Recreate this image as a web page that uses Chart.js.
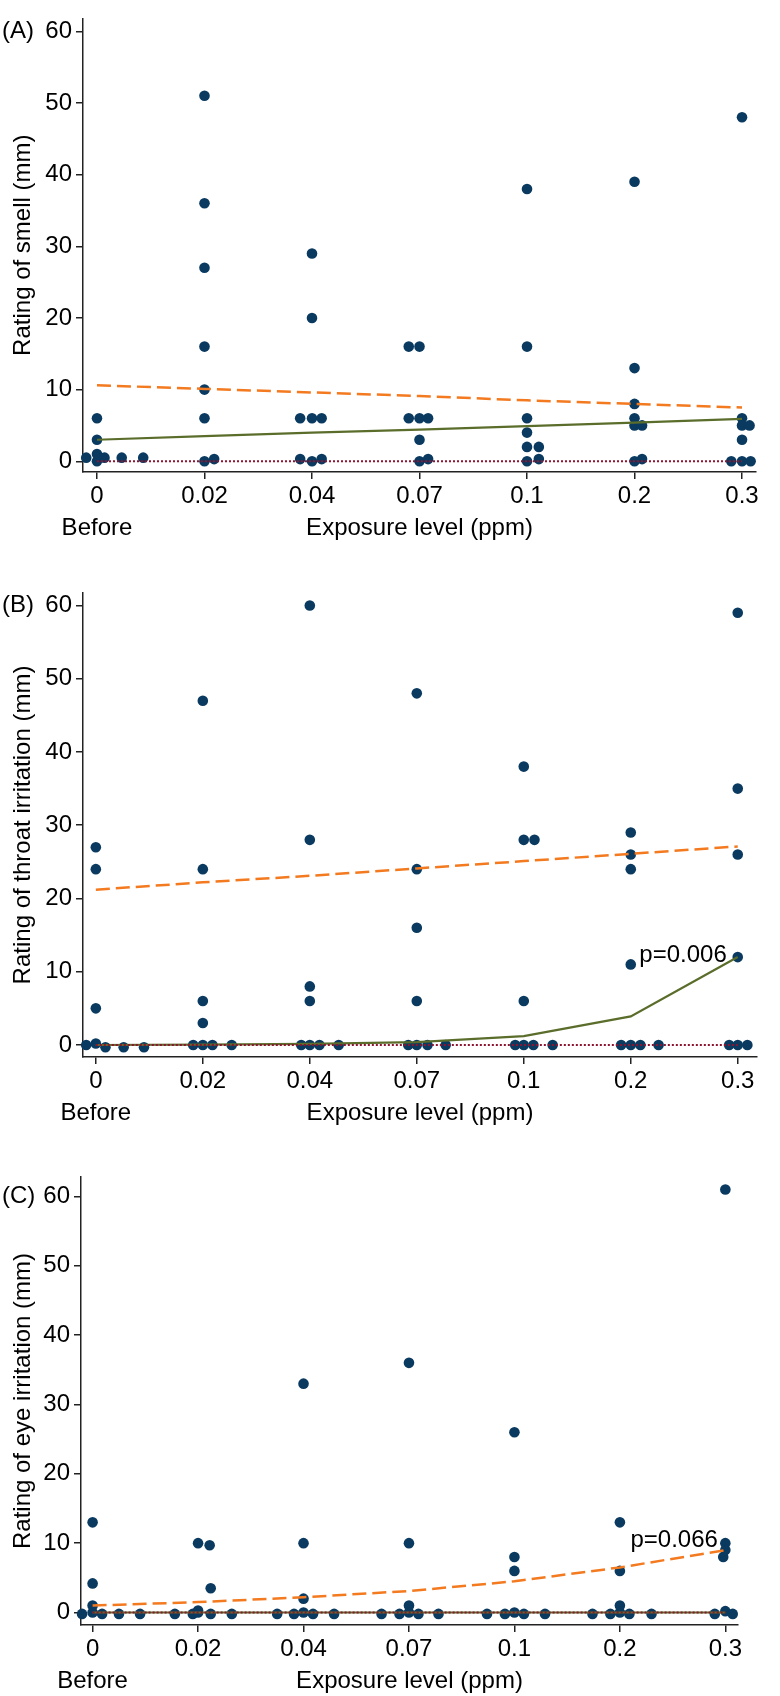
<!DOCTYPE html>
<html>
<head>
<meta charset="utf-8">
<script src="https://cdn.jsdelivr.net/npm/chart.js@4.4.0/dist/chart.umd.min.js"></script>
<style>
body { margin: 0; background: #fff; }
.panel { position: absolute; left: 0; width: 780px; }
canvas { display: block; }
</style>
</head>
<body>
<div class="panel" style="top:0px"><canvas id="chartA" width="780" height="560"></canvas></div>
<div class="panel" style="top:560px"><canvas id="chartB" width="780" height="580"></canvas></div>
<div class="panel" style="top:1140px"><canvas id="chartC" width="780" height="556"></canvas></div>
<script>
// exposure categories (x = category index, jittered points get a small offset)
const xLabels = ['0', '0.02', '0.04', '0.07', '0.1', '0.2', '0.3'];
const yTicks = [0, 10, 20, 30, 40, 50, 60];

// (A) smell: [position, rating]
const smellPoints = [
    [0, 6], [0, 3], [0, 1], [0, 0], [-0.1, 0.5], [0.07, 0.5], [0.23, 0.5], [0.43, 0.5],
    [1, 51], [1, 36], [1, 27], [1, 16], [1, 10], [1, 6], [1, 0], [1.09, 0.3],
    [2, 29], [2, 20], [1.89, 6], [2, 6], [2.09, 6], [2, 0], [1.89, 0.3], [2.09, 0.3],
    [2.9, 16], [3, 16], [2.9, 6], [3, 6], [3.08, 6], [3, 3], [3, 0], [3.08, 0.3],
    [4, 38], [4, 16], [4, 6], [4, 4], [4, 2], [4.11, 2], [4, 0], [4.11, 0.3],
    [5, 39], [5, 13], [5, 8], [5, 6], [5, 5], [5.07, 5], [5, 0], [5.07, 0.3],
    [6, 48], [6, 6], [6, 5], [6.07, 5], [6, 3], [5.9, 0], [6, 0], [6.08, 0]
];
const smellMean = [10.6, 10.1, 9.6, 9.1, 8.5, 8.0, 7.5];
const smellTrend = [3.0, 3.5, 4.0, 4.4, 4.9, 5.4, 5.9];
const smellMedian = [0, 0, 0, 0, 0, 0, 0];

// (B) throat irritation
const throatPoints = [
    [0, 27], [0, 24], [0, 5], [-0.09, 0], [0, 0.2], [0.09, -0.3], [0.26, -0.3], [0.45, -0.3],
    [1, 47], [1, 24], [1, 6], [1, 3], [0.91, 0], [1, 0], [1.09, 0], [1.27, 0],
    [2, 60], [2, 28], [2, 8], [2, 6], [1.92, 0], [2, 0], [2.09, 0], [2.27, 0],
    [3, 48], [3, 24], [3, 16], [3, 6], [2.92, 0], [3, 0], [3.1, 0], [3.27, 0],
    [4, 38], [4, 28], [4.1, 28], [4, 6], [3.92, 0], [4, 0], [4.09, 0], [4.27, 0],
    [5, 29], [5, 26], [5, 24], [5, 11], [4.91, 0], [5, 0], [5.09, 0], [5.26, 0],
    [6, 59], [6, 35], [6, 26], [6, 12], [5.92, 0], [6, 0], [6.09, 0], [6.26, 0]
];
const throatMean = [21.2, 22.2, 23.1, 24.1, 25.1, 26.1, 27.1];
const throatTrend = [0, 0.05, 0.15, 0.4, 1.2, 3.9, 12];
const throatMedian = [0, 0, 0, 0, 0, 0, 0];

// (C) eye irritation
const eyePoints = [
    [0, 13], [0, 4.2], [0, 1], [0, 0], [-0.1, -0.2], [0.09, -0.2], [0.25, -0.2], [0.45, -0.2],
    [1, 10], [1.11, 9.7], [1.12, 3.5], [1, 0.3], [0.78, -0.2], [0.95, -0.2], [1, 0], [1.12, -0.2], [1.32, -0.2],
    [2, 33], [2, 10], [2, 2], [2, 0], [1.75, -0.2], [1.91, -0.2], [2.09, -0.2], [2.29, -0.2],
    [3, 36], [3, 10], [3, 1], [3, 0], [2.74, -0.2], [2.91, -0.2], [3.09, -0.2], [3.28, -0.2],
    [4, 26], [4, 8], [4, 6], [4, 0], [3.74, -0.2], [3.91, -0.2], [4.09, -0.2], [4.29, -0.2],
    [5, 13], [5, 6], [5, 1], [5, 0], [4.74, -0.2], [4.91, -0.2], [5.09, -0.2], [5.3, -0.2],
    [6, 61], [6, 10], [6, 9], [5.98, 8], [6, 0.2], [5.9, -0.2], [6.07, -0.2], [6.24, -0.2]
];
const eyeMean = [1.0, 1.5, 2.2, 3.1, 4.5, 6.5, 9.0];
const eyeTrend = [0, 0, 0, 0, 0, 0, 0];
const eyeMedian = [0, 0, 0, 0, 0, 0, 0];

const NAVY = '#0a3a60';
const ORANGE = '#f47a20';
const GREEN = '#5b6d2b';
const RED = '#8e1430';
const AXIS = '#222';
const FONT = '"Liberation Sans", Arial, sans-serif';

const textPlugin = {
    id: 'panelText',
    afterDraw(chart, args, opts) {
        const ctx = chart.ctx;
        const area = chart.chartArea;
        const xs = chart.scales.x;
        const ys = chart.scales.y;
        ctx.save();
        ctx.fillStyle = '#000';
        ctx.font = '24px ' + FONT;
        ctx.textBaseline = 'middle';
        ctx.textAlign = 'left';
        ctx.fillText(opts.letter, 2, ys.getPixelForValue(60));
        if (opts.pText) {
            ctx.fillText(opts.pText, xs.getPixelForValue(opts.pAt[0]), ys.getPixelForValue(opts.pAt[1]));
        }
        ctx.textAlign = 'center';
        ctx.fillText('Before', xs.getPixelForValue(0), area.bottom + 56);
        ctx.fillText('Exposure level (ppm)', (area.left + area.right) / 2, area.bottom + 56);
        ctx.translate(23, (area.top + area.bottom) / 2);
        ctx.rotate(-Math.PI / 2);
        ctx.fillText(opts.yTitle, 0, 0);
        ctx.restore();
    }
};

const lineSet = (vals, color, width, dash, order) => ({
    type: 'line',
    data: vals.map((v, i) => ({x: i, y: v})),
    borderColor: color,
    borderWidth: width,
    borderDash: dash,
    pointRadius: 0,
    fill: false,
    tension: 0,
    order: order
});

function makePanel(id, p) {
    new Chart(document.getElementById(id), {
        type: 'scatter',
        data: {
            datasets: [
                {
                    data: p.points.map(([x, y]) => ({x, y})),
                    backgroundColor: NAVY,
                    pointRadius: 5.3,
                    pointHoverRadius: 5.3,
                    borderWidth: 0,
                    clip: false,
                    order: 3
                },
                lineSet(p.median, RED, 2, [2, 2], 1),
                lineSet(p.trend, GREEN, 2.2, [], 2),
                lineSet(p.mean, ORANGE, 2.5, [14, 6], 0)
            ]
        },
        options: {
            responsive: false,
            animation: false,
            layout: { padding: { top: p.top, right: p.right, left: 0, bottom: 0 } },
            plugins: {
                legend: { display: false },
                tooltip: { enabled: false },
                panelText: { letter: p.letter, yTitle: p.yTitle, pText: p.pText, pAt: p.pAt }
            },
            scales: {
                x: {
                    type: 'linear',
                    min: p.xMin,
                    max: p.xMax,
                    afterBuildTicks: s => { s.ticks = xLabels.map((_, i) => ({value: i})); },
                    afterFit: s => { s.height = p.xAxisH; },
                    ticks: {
                        callback: v => xLabels[v],
                        font: { family: FONT, size: 24 },
                        color: '#000',
                        padding: 3,
                        autoSkip: false,
                        maxRotation: 0
                    },
                    grid: { display: true, drawOnChartArea: false, drawTicks: true, tickLength: 7, color: AXIS, lineWidth: 1.5 },
                    border: { display: true, color: AXIS, width: 1.5 }
                },
                y: {
                    type: 'linear',
                    min: p.yMin,
                    max: p.yMax,
                    afterBuildTicks: s => { s.ticks = yTicks.map(v => ({value: v})); },
                    afterFit: s => { s.width = p.left; },
                    ticks: {
                        font: { family: FONT, size: 24 },
                        color: '#000',
                        padding: 4
                    },
                    grid: { display: true, drawOnChartArea: false, drawTicks: true, tickLength: 7, color: AXIS, lineWidth: 1.5 },
                    border: { display: true, color: AXIS, width: 1.5 }
                }
            }
        },
        plugins: [textPlugin]
    });
}

makePanel('chartA', {
    points: smellPoints, mean: smellMean, trend: smellTrend, median: smellMedian,
    letter: '(A)', yTitle: 'Rating of smell (mm)',
    top: 5, right: 24, left: 83, xAxisH: 88,
    xMin: -0.13, xMax: 6.13, yMin: -1.5, yMax: 61.8
});

makePanel('chartB', {
    points: throatPoints, mean: throatMean, trend: throatTrend, median: throatMedian,
    letter: '(B)', yTitle: 'Rating of throat irritation (mm)',
    pText: 'p=0.006', pAt: [5.08, 12.3],
    top: 33, right: 23, left: 83, xAxisH: 83,
    xMin: -0.12, xMax: 6.18, yMin: -1.64, yMax: 61.7
});

makePanel('chartC', {
    points: eyePoints, mean: eyeMean, trend: eyeTrend, median: eyeMedian,
    letter: '(C)', yTitle: 'Rating of eye irritation (mm)',
    pText: 'p=0.066', pAt: [5.1, 10.4],
    top: 37, right: 42, left: 81, xAxisH: 71,
    xMin: -0.11, xMax: 6.12, yMin: -1.8, yMax: 62.8
});
</script>
</body>
</html>
